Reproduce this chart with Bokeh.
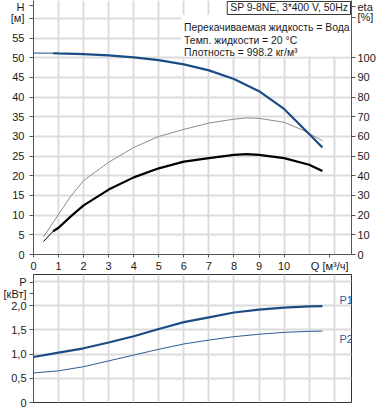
from bokeh.plotting import figure
from bokeh.models import Range1d, LinearAxis, FixedTicker, Label, BoxAnnotation
from bokeh.layouts import column
from bokeh.embed import file_html
from bokeh.resources import INLINE

# ---------------- data ----------------
q_ticks = list(range(0, 11))
q_grid = list(range(0, 13))
q_label_pos = 11.82
q_label = "Q [м³/ч]"

# Head H [m]
q_h = [0, 0.78, 1, 2, 3, 4, 5, 6, 7, 8, 9, 10, 11, 11.53]
h_vals = [51.2, 51.15, 51.1, 50.9, 50.6, 50.1, 49.4, 48.3, 46.8, 44.6, 41.5, 37.0, 30.6, 27.2]

# Efficiency (thin grey curve) [%]
q_eta1 = [0.4, 1, 1.5, 2, 3, 4, 5, 6, 7, 8, 8.5, 9, 10, 10.75, 11.53]
eta1_vals = [9.0, 20.4, 29.8, 37.6, 46.9, 54.4, 60.0, 63.6, 66.8, 68.8, 69.4, 69.2, 67.2, 63.2, 57.8]

# Efficiency (thick black curve) [%]
q_eta2 = [0.4, 0.78, 1, 1.5, 2, 3, 4, 5, 6, 7, 8, 8.5, 9, 10, 11, 11.53]
eta2_vals = [6.6, 11.8, 13.6, 19.5, 25.0, 33.0, 39.2, 43.8, 47.2, 49.0, 50.6, 51.0, 50.6, 49.0, 45.6, 42.5]

# Power P1, P2 [kW]
q_p = [0, 1, 2, 3, 4, 5, 6, 7, 8, 9, 10, 11, 11.53]
p1_vals = [0.94, 1.03, 1.12, 1.24, 1.37, 1.52, 1.66, 1.76, 1.86, 1.92, 1.96, 1.985, 1.99]
p2_vals = [0.61, 0.655, 0.74, 0.86, 0.98, 1.10, 1.21, 1.29, 1.36, 1.41, 1.45, 1.47, 1.475]

h_ticks = list(range(0, 61, 5))
h_grid = list(range(0, 61, 5))
h_unit_pos = {"H": 63.2, "[м]": 60}
eta_ticks = list(range(0, 101, 10))
eta_unit_pos = {"eta": 125.8, "[%]": 120.5}
p_ticks = [0, 0.5, 1.0, 1.5, 2.0]
p_grid = [0, 0.5, 1.0, 1.5, 2.0, 2.5]
p_tick_labels = {0: "0", 0.5: "0,5", 1.0: "1,0", 1.5: "1,5", 2.0: "2,0"}
p_unit_pos = {"P": 2.49, "[кВт]": 2.25}

title_text = "SP 9-8NE, 3*400 V, 50Hz"
info_lines = ["Перекачиваемая жидкость = Вода",
              "Темп. жидкости = 20 °C",
              "Плотность = 998.2 кг/м³"]

# ---------------- styling ----------------
FONT = "Liberation Sans"
FS = "11px"
FS_BOX = "10.4px"
BLUE = "#1b4c86"
BLUE2 = "#2d5d93"
GRID = "#dcdcdc"
AXIS = "#555555"
TXT = "#1a1a1a"

X_MAX = 12.69
H_MAX = 64.55
ETA_MAX = 2 * H_MAX
P_MAX = 2.645


def style_axis(ax):
    ax.axis_line_color = AXIS
    ax.major_tick_line_color = AXIS
    ax.minor_tick_line_color = None
    ax.major_tick_in = 0
    ax.major_label_text_font = FONT
    ax.major_label_text_font_size = FS
    ax.major_label_text_color = TXT


def style_grid(fig, xticks, yticks):
    fig.xgrid.ticker = FixedTicker(ticks=xticks)
    fig.ygrid.ticker = FixedTicker(ticks=yticks)
    for g in (fig.xgrid, fig.ygrid):
        g.grid_line_color = GRID
        g.grid_line_width = 2


# ---------------- top figure ----------------
p = figure(width=378, height=274, x_range=Range1d(0, X_MAX), y_range=Range1d(0, H_MAX),
           output_backend="svg", toolbar_location=None,
           min_border_left=31, min_border_right=26, min_border_top=0, min_border_bottom=18)
p.outline_line_color = None
p.background_fill_color = "white"

p.xaxis.ticker = FixedTicker(ticks=q_ticks + [q_label_pos])
p.xaxis.major_label_overrides = {q_label_pos: q_label}
p.xaxis.major_tick_out = 3
p.xaxis.major_label_standoff = 2
p.yaxis.ticker = FixedTicker(ticks=h_ticks + [h_unit_pos["H"]])
p.yaxis.major_label_overrides = {v: k for k, v in h_unit_pos.items()}
p.yaxis.major_tick_out = 4
p.yaxis.major_label_standoff = 5
style_axis(p.xaxis[0])
style_axis(p.yaxis[0])
style_grid(p, q_grid, h_grid)

p.extra_y_ranges = {"eta": Range1d(0, ETA_MAX)}
eta_axis = LinearAxis(y_range_name="eta",
                      ticker=FixedTicker(ticks=eta_ticks + list(eta_unit_pos.values())))
eta_axis.major_label_overrides = {v: k for k, v in eta_unit_pos.items()}
style_axis(eta_axis)
eta_axis.major_tick_out = 4
eta_axis.major_label_standoff = 2
p.add_layout(eta_axis, "right")

# info boxes (white background)
p.add_layout(BoxAnnotation(left=5.89, right=12.65, bottom=50.3, top=61.0,
                           fill_color="white", fill_alpha=1.0, line_color=None))
p.add_layout(BoxAnnotation(left=7.73, right=12.65, bottom=61.0, top=64.3,
                           fill_color="white", fill_alpha=1.0, line_color="#333333",
                           line_alpha=1.0, line_width=1))

# curves
p.line(q_eta1, eta1_vals, y_range_name="eta", line_color="#8c8c8c", line_width=1)
p.line(q_eta2[:2], eta2_vals[:2], y_range_name="eta", line_color="black", line_width=1)
p.line(q_eta2[1:], eta2_vals[1:], y_range_name="eta", line_color="black", line_width=2.2)
p.line(q_h[:2], h_vals[:2], line_color=BLUE, line_width=1)
p.line(q_h[1:], h_vals[1:], line_color=BLUE, line_width=2.2)

# texts
p.add_layout(Label(x=7.73, y=62.65, x_offset=3, text=title_text, text_font=FONT,
                   text_font_size=FS_BOX, text_color=TXT, text_baseline="middle"))
for i, line in enumerate(info_lines):
    p.add_layout(Label(x=5.89, y=57.7 - i * 3.2, x_offset=3, text=line, text_font=FONT,
                       text_font_size=FS_BOX, text_color=TXT, text_baseline="middle"))

# ---------------- bottom figure ----------------
p2 = figure(width=378, height=136, x_range=p.x_range, y_range=Range1d(0, P_MAX),
            output_backend="svg", toolbar_location=None, x_axis_location=None,
            min_border_left=31, min_border_right=26, min_border_top=0, min_border_bottom=8)
p2.outline_line_color = "#333333"
p2.yaxis.ticker = FixedTicker(ticks=p_ticks + list(p_unit_pos.values()))
overrides = dict(p_tick_labels)
overrides.update({v: k for k, v in p_unit_pos.items()})
p2.yaxis.major_label_overrides = overrides
p2.yaxis.major_tick_out = 4
p2.yaxis.major_label_standoff = 3
style_axis(p2.yaxis[0])
style_grid(p2, q_grid, p_grid)

p2.line(q_p, p2_vals, line_color=BLUE2, line_width=1)
p2.line(q_p, p1_vals, line_color=BLUE, line_width=2.2)

p2.add_layout(Label(x=12.21, y=2.116, text="P1", text_font=FONT, text_font_size=FS,
                    text_color="#2c5f9a", text_baseline="middle"))
p2.add_layout(Label(x=12.21, y=1.31, text="P2", text_font=FONT, text_font_size=FS,
                    text_color="#2c5f9a", text_baseline="middle"))

layout = column(p, p2, spacing=0)

open("out.html", "w").write(file_html(layout, INLINE))
